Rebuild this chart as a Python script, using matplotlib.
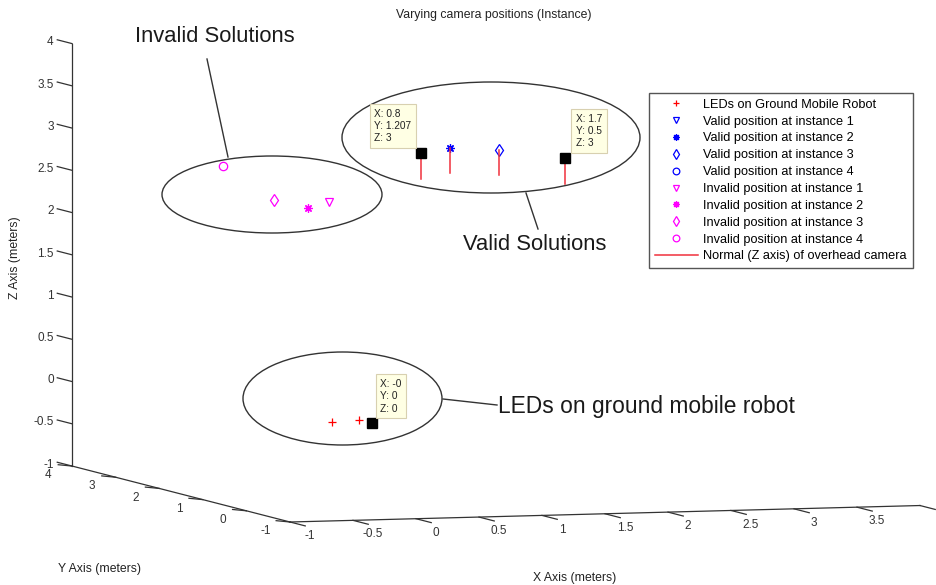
import matplotlib
matplotlib.use('Agg')
import matplotlib.pyplot as plt
import matplotlib.transforms as mtransforms
from matplotlib.patches import Ellipse
from matplotlib.lines import Line2D
from mpl_toolkits.mplot3d import proj3d
import numpy as np

plt.rcParams['font.family'] = ['Liberation Sans', 'DejaVu Sans']

W, H = 937, 585

#####################################
# data (meters)
led_x = [0.0, 0.0, -0.26]
led_y = [0.0, 0.3, 0.17]
led_z = [0.0, 0.0, 0.0]

valid_x = [0.8, 1.17, 1.46, 1.7]
valid_y = [1.207, 1.6, 1.31, 0.5]
valid_z = [3.0, 3.0, 3.0, 3.0]

invalid_x = [-0.04, -0.36, -0.38, -0.74]
invalid_y = [0.88, 0.44, 1.16, 1.28]
invalid_z = [2.5, 2.5, 2.5, 2.9]

normal_len = 0.3   # length of the camera z-axis stem

# data tips shown on the figure
tip_x = [0.8, 1.7, 0.0]
tip_y = [1.207, 0.5, 0.0]
tip_z = [3.0, 3.0, 0.0]
tip_text = ['X: 0.8\nY: 1.207\nZ: 3', 'X: 1.7\nY: 0.5\nZ: 3', 'X: -0\nY: 0\nZ: 0']

x_ticks = [-1, -0.5, 0, 0.5, 1, 1.5, 2, 2.5, 3, 3.5, 4]
x_tick_labels = ['-1', '-0.5', '0', '0.5', '1', '1.5', '2', '2.5', '3', '3.5', '']  # 4 falls off the screenshot
y_ticks = [-1, 0, 1, 2, 3, 4]
y_tick_labels = ['-1', '0', '1', '2', '3', '4']
z_ticks = [-1, -0.5, 0, 0.5, 1, 1.5, 2, 2.5, 3, 3.5, 4]
z_tick_labels = ['-1', '-0.5', '0', '0.5', '1', '1.5', '2', '2.5', '3', '3.5', '4']
lim = (-1, 4)
#####################################

instance_markers = ['v', (8, 2, 0), 'd', 'o']
axis_col = '#333333'
red = '#f0303c'

fig = plt.figure(figsize=(W / 100, H / 100), dpi=100)
fig.patch.set_facecolor('white')
ax = fig.add_axes([0, 0, 1, 1], projection='3d', proj_type='ortho')
ax.set_xlim(*lim)
ax.set_ylim(*lim)
ax.set_zlim(*lim)
ax.set_box_aspect((132.3, 143.4, 84.8))
ax.view_init(elev=4.7, azim=-107.7)
ax.set_axis_off()


def to_px(xs, ys, zs):
    px, py, _ = proj3d.proj_transform(np.asarray(xs, float), np.asarray(ys, float),
                                      np.asarray(zs, float), ax.get_proj())
    return ax.transData.transform(np.column_stack([px, py]))


# fit the 3d box to the screenshot: x axis from corner (290,522) with 126 px per meter
target_corner = (290, H - 522)
target_span = 126 * (lim[1] - lim[0])
for _ in range(3):
    fig.canvas.draw()
    a, b = to_px([lim[0], lim[1]], [lim[0], lim[0]], [lim[0], lim[0]])
    bb = ax.get_position()
    x0, y0, w = bb.x0 * W, bb.y0 * H, bb.width * W
    k = target_span / (b[0] - a[0])
    wn = w * k
    x0n = target_corner[0] - (a[0] - x0) * k
    y0n = target_corner[1] - (a[1] - y0) * k
    ax.set_position([x0n / W, y0n / H, wn / W, wn / H])
fig.canvas.draw()

#axis lines
ax.plot([lim[0], lim[0]], [lim[1], lim[1]], [lim[0], lim[1]], color=axis_col, lw=0.9)
ax.plot([lim[0], lim[0]], [lim[1], lim[0]], [lim[0], lim[0]], color=axis_col, lw=0.9)
ax.plot([lim[0], lim[1]], [lim[0], lim[0]], [lim[0], lim[0]], color=axis_col, lw=0.9)


def label_at(x, y, z, s, **kw):
    (px, py), = to_px([x], [y], [z])
    fig.text(px / W, py / H, s, fontsize=8.5, color=axis_col, **kw)


#ticks and labels
for t, s in zip(z_ticks, z_tick_labels):
    ax.plot([lim[0], lim[0]], [lim[1], lim[1] + 0.34], [t, t], color=axis_col, lw=0.9)
    label_at(lim[0], lim[1] + 0.42, t - 0.04, s, ha='right', va='center')
for t, s in zip(y_ticks, y_tick_labels):
    ax.plot([lim[0], lim[0] - 0.11], [t, t], [lim[0], lim[0] + 0.02], color=axis_col, lw=0.9)
    label_at(lim[0] - 0.19, t, lim[0] - 0.1, s, ha='center', va='center')
for t, s in zip(x_ticks, x_tick_labels):
    ax.plot([t, t], [lim[0], lim[0] - 0.35], [lim[0], lim[0]], color=axis_col, lw=0.9)
    if s:
        label_at(t, lim[0] - 0.46, lim[0] - 0.106, s, ha='center', va='center')

#data
handles = []
h, = ax.plot(led_x, led_y, led_z, ls='none', marker='+', color='red', ms=6, mew=0.9,
             label='LEDs on Ground Mobile Robot')
handles.append(h)
for i in range(4):
    h, = ax.plot([valid_x[i]], [valid_y[i]], [valid_z[i]], ls='none', marker=instance_markers[i],
                 color='blue', mfc='none', ms=6, mew=0.9, label='Valid position at instance %d' % (i + 1))
    handles.append(h)
for i in range(4):
    h, = ax.plot([invalid_x[i]], [invalid_y[i]], [invalid_z[i]], ls='none', marker=instance_markers[i],
                 color='magenta', mfc='none', ms=6, mew=0.9, label='Invalid position at instance %d' % (i + 1))
    handles.append(h)
for i in range(4):
    h, = ax.plot([valid_x[i], valid_x[i]], [valid_y[i], valid_y[i]],
                 [valid_z[i], valid_z[i] - normal_len], color=red, lw=1.1,
                 label='Normal (Z axis) of overhead camera')
handles.append(h)

#data tip markers
ax.plot(tip_x, tip_y, tip_z, ls='none', marker='s', color='black', ms=7)

fig.legend(handles=handles, loc='upper left', bbox_to_anchor=(649 / W, 1 - 93 / H),
           bbox_transform=fig.transFigure, borderaxespad=0, fancybox=False, framealpha=1,
           edgecolor='#555555', fontsize=9.2, handlelength=3.4, handletextpad=0.4,
           labelspacing=0.38, borderpad=0.45, markerscale=0.8)

#data tip boxes
tips = to_px(tip_x, tip_y, tip_z)
tip_off = [(-9, 10, 'right'), (11, 10, 'left'), (8, 9.5, 'left')]
for (px, py), s, (dx, dy, ha) in zip(tips, tip_text, tip_off):
    fig.text((px + dx) / W, (py + dy) / H, s, ha=ha, va='bottom', multialignment='left',
             fontsize=7.3, color='#222222', linespacing=1.3,
             bbox=dict(boxstyle='square,pad=0.45', fc='#ffffe4', ec='#d8d0b0', lw=0.8))

#text
pix = mtransforms.Affine2D().scale(1 / W, -1 / H).translate(0, 1) + fig.transFigure
fig.text(494, 15, 'Varying camera positions (Instance)', transform=pix, ha='center', va='center',
         fontsize=8.8, color='#222222')
fig.text(15, 258, 'Z Axis (meters)', transform=pix, ha='center', va='center', rotation=90,
         fontsize=8.8, color='#222222')
fig.text(100, 569, 'Y Axis (meters)', transform=pix, ha='center', va='center', fontsize=8.8, color='#222222')
fig.text(575, 578, 'X Axis (meters)', transform=pix, ha='center', va='center', fontsize=8.8, color='#222222')

#callouts
for cx, cy, ew, eh in [(272, 194.5, 220, 77), (491, 137.5, 298, 111), (342.5, 398.5, 199, 93)]:
    fig.add_artist(Ellipse((cx, cy), ew, eh, transform=pix, fill=False, ec='#333333', lw=1.0))
for xs, ys in [([207, 228], [59, 157]), ([526, 538], [193, 229]), ([443, 497], [399, 405])]:
    fig.add_artist(Line2D(xs, ys, transform=pix, color='#333333', lw=1.0))
fig.text(135, 37, 'Invalid Solutions', transform=pix, ha='left', va='center', fontsize=15.8, color='#1a1a1a')
fig.text(463, 244, 'Valid Solutions', transform=pix, ha='left', va='center', fontsize=15.8, color='#1a1a1a')
fig.text(498, 407, 'LEDs on ground mobile robot', transform=pix, ha='left', va='center', fontsize=16.4,
         color='#1a1a1a')

fig.savefig('out.png', dpi=100, facecolor='white')
